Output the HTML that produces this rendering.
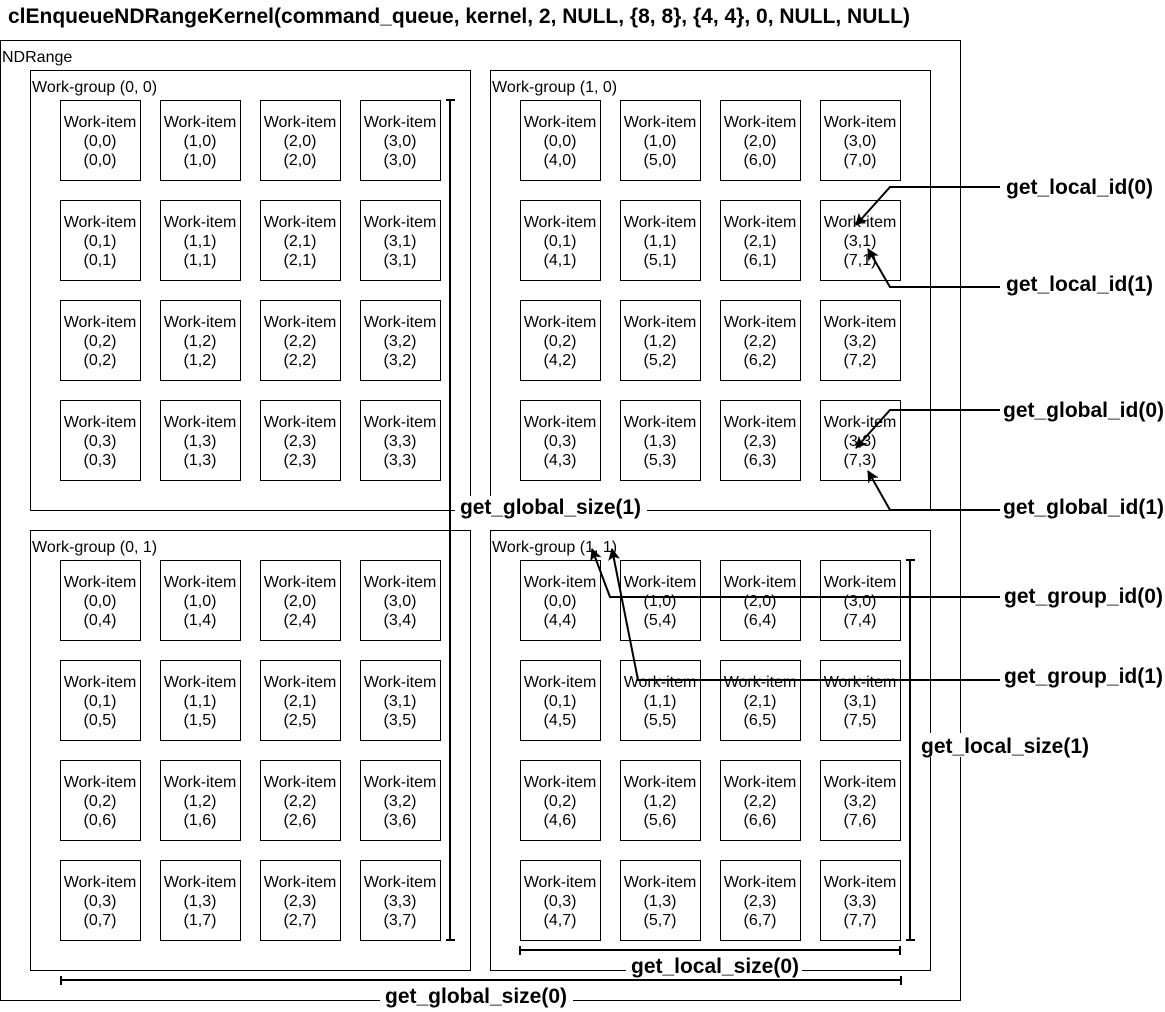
<!DOCTYPE html>
<html><head><meta charset="utf-8"><style>
html,body{margin:0;padding:0;background:#fff}
svg{display:block}
text{font-family:"Liberation Sans",sans-serif}
</style></head><body>
<svg id="s" width="1165" height="1012" viewBox="0 0 1165 1012" xmlns="http://www.w3.org/2000/svg">
<defs><marker id="a" markerWidth="12" markerHeight="12" refX="11" refY="6" orient="auto" markerUnits="userSpaceOnUse"><path d="M0,0 L12,6 L0,12 L3,6 z" fill="#000"/></marker></defs>
<text x="8" y="23" font-size="21" font-weight="bold" textLength="902">clEnqueueNDRangeKernel(command_queue, kernel, 2, NULL, {8, 8}, {4, 4}, 0, NULL, NULL)</text>
<rect x="0.5" y="40.5" width="960" height="960" fill="none" stroke="#000"/>
<text x="2" y="62" font-size="16">NDRange</text>
<g id="g"></g>
<g stroke="#000" stroke-width="2" fill="none">
<path d="M450,100 V940 M446,100 H455 M446,940 H455"/>
<path d="M910,560 V940 M906,560 H915 M906,940 H915"/>
<path d="M520,950 H900 M520,946 V955 M900,946 V955"/>
<path d="M61,980 H901 M61,976 V985 M901,976 V985"/>
<path d="M1000,187 H890 L856,225" marker-end="url(#a)"/>
<path d="M1000,287 H890 L868,249" marker-end="url(#a)"/>
<path d="M1000,410 H890 L856,448" marker-end="url(#a)"/>
<path d="M1000,510 H890 L868,471" marker-end="url(#a)"/>
<path d="M1000,597 H610 L592,549" marker-end="url(#a)"/>
<path d="M1000,680 H638 L612,549" marker-end="url(#a)"/>
</g>
<g font-size="21" font-weight="bold">
<rect x="455" y="496" width="192" height="24" fill="#fff"/>
<text x="460" y="514" textLength="181">get_global_size(1)</text>
<rect x="918" y="733" width="175" height="24" fill="#fff"/>
<text x="921" y="753" textLength="168">get_local_size(1)</text>
<rect x="626" y="954" width="176" height="24" fill="#fff"/>
<text x="631" y="973" textLength="168">get_local_size(0)</text>
<rect x="380" y="984" width="193" height="24" fill="#fff"/>
<text x="385" y="1003" textLength="182">get_global_size(0)</text>
<text x="1006" y="194" textLength="147">get_local_id(0)</text>
<text x="1006" y="291" textLength="147">get_local_id(1)</text>
<text x="1003" y="417" textLength="161">get_global_id(0)</text>
<text x="1003" y="514" textLength="161">get_global_id(1)</text>
<text x="1004" y="603" textLength="159">get_group_id(0)</text>
<text x="1004" y="683" textLength="159">get_group_id(1)</text>
</g>
</svg>
<script>
var g=document.getElementById('g'),h='';
for(var gy=0;gy<2;gy++)for(var gx=0;gx<2;gx++){
var X=30+gx*460,Y=70+gy*460;
h+='<rect x="'+(X+.5)+'" y="'+(Y+.5)+'" width="440" height="440" fill="none" stroke="#000"/>';
h+='<text x="'+(X+2)+'" y="'+(Y+22)+'" font-size="16">Work-group ('+gx+', '+gy+')</text>';
for(var j=0;j<4;j++)for(var i=0;i<4;i++){
var x=X+30+i*100,y=Y+30+j*100,cx=x+40;
h+='<rect x="'+(x+.5)+'" y="'+(y+.5)+'" width="80" height="80" fill="#fff" stroke="#000"/>';
h+='<text text-anchor="middle" font-size="16"><tspan x="'+cx+'" y="'+(y+27)+'">Work-item</tspan><tspan x="'+cx+'" y="'+(y+46)+'">('+i+','+j+')</tspan><tspan x="'+cx+'" y="'+(y+65)+'">('+(gx*4+i)+','+(gy*4+j)+')</tspan></text>';
}}
g.innerHTML=h;
</script>
</body></html>
